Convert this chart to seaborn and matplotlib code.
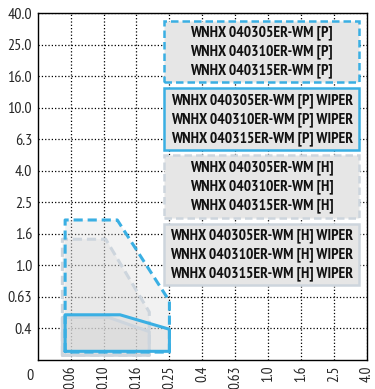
import numpy as np
import pandas as pd
import matplotlib
matplotlib.use("Agg")
import matplotlib.pyplot as plt
from matplotlib.patches import Rectangle
import seaborn as sns

# axis tick values (equally spaced on the chart)
x_ticks = [0, 0.06, 0.10, 0.16, 0.25, 0.40, 0.63, 1.0, 1.6, 2.5, 4.0]
y_ticks = [0, 0.4, 0.63, 1.0, 1.6, 2.5, 4.0, 6.3, 10.0, 16.0, 25.0, 40.0]
x_labels = ["0.06", "0.10", "0.16", "0.25", "0.4", "0.63", "1.0", "1.6", "2.5", "4.0"]
y_labels = ["0.4", "0.63", "1.0", "1.6", "2.5", "4.0", "6.3", "10.0", "16.0", "25.0", "40.0"]

# working areas: feed (x) and depth of cut (y)
p_f = [0.05, 0.05, 0.125, 0.25, 0.25]
p_ap = [0.1, 2.0, 2.0, 0.6, 0.1]
pw_f = [0.05, 0.05, 0.13, 0.25, 0.25]
pw_ap = [0.11, 0.5, 0.5, 0.39, 0.11]
h_f = [0.045, 0.045, 0.104, 0.195, 0.195]
h_ap = [0.06, 1.5, 1.5, 0.52, 0.06]
hw_f = [0.045, 0.045, 0.11, 0.195, 0.195]
hw_ap = [0.06, 0.48, 0.48, 0.36, 0.06]

grades = ["040305", "040310", "040315"]
legend_names = ["WNHX {}ER-WM [P]", "WNHX {}ER-WM [P] WIPER",
                "WNHX {}ER-WM [H]", "WNHX {}ER-WM [H] WIPER"]

BLUE = "#3aafe3"
GREY = "#cdd5dd"

sns.set_theme(style="white")
plt.rcParams["font.family"] = ["PT Sans Narrow", "Roboto Condensed", "Asap Condensed", "DejaVu Sans"]


def to_x(v):
    return np.interp(v, x_ticks, np.arange(len(x_ticks)))


def to_y(v):
    return np.interp(v, y_ticks, np.arange(len(y_ticks)))


fig, ax = plt.subplots(figsize=(3.75, 3.89), dpi=100)
fig.subplots_adjust(left=0.1005, right=0.9787, top=0.9653, bottom=0.0746)

areas = [
    (p_f, p_ap, BLUE, "--", 0.30),
    (h_f, h_ap, GREY, "--", 0.30),
    (pw_f, pw_ap, BLUE, "-", 0.35),
    (hw_f, hw_ap, GREY, "-", 0.35),
]
for f, ap, c, ls, a in areas:
    ax.fill(to_x(f), to_y(ap), color="#d6d6d6", alpha=a, lw=0, zorder=2)

for f, ap, c, ls, a in [areas[1], areas[3], areas[0], areas[2]]:
    df = pd.DataFrame({"x": to_x(f + f[:1]), "y": to_y(ap + ap[:1])})
    sns.lineplot(data=df, x="x", y="y", sort=False, estimator=None, ax=ax,
                 color=c, linewidth=2.2, zorder=3)
    if ls == "--":
        ax.lines[-1].set_dashes([3, 1.6])

ax.set_xlim(0, 10)
ax.set_ylim(0, 11)
ax.set_xticks(range(1, 11))
ax.set_xticklabels(x_labels, rotation=90, fontsize=11)
ax.set_yticks(range(1, 12))
ax.set_yticklabels(y_labels, fontsize=11.5)
ax.set_xlabel("")
ax.set_ylabel("")
ax.grid(True, linestyle=":", color="black", linewidth=0.9, zorder=1)
ax.set_axisbelow(True)
ax.tick_params(axis="x", length=2, width=0.8, color="black", pad=2)
ax.tick_params(axis="y", length=0, pad=4)
for s in ax.spines.values():
    s.set_color("black")
    s.set_linewidth(1.0)

fig.text(30 / 375, 1 - 376 / 389, "0", ha="center", va="center", fontsize=11.5)

# legend boxes (axes fraction)
boxes = [(0.803, 0.978, BLUE, "--"), (0.606, 0.784, BLUE, "-"),
         (0.409, 0.592, GREY, "--"), (0.216, 0.393, GREY, "-")]
dy = 19 / 346.5
for (y0, y1, c, ls), name in zip(boxes, legend_names):
    rect = Rectangle((0.3835, y0), 0.5925, y1 - y0, transform=ax.transAxes,
                     facecolor="#e6e6e6", edgecolor=c, linewidth=1.8,
                     linestyle=ls, zorder=5)
    if ls == "--":
        rect.set_linestyle((0, (3, 1.6)))
    ax.add_patch(rect)
    yc = (y0 + y1) / 2
    for k, g in enumerate(grades):
        ax.text(0.68, yc + (1 - k) * dy, name.format(g), transform=ax.transAxes,
                ha="center", va="center", fontsize=11.2, fontweight="bold",
                color="#111111", zorder=6)

fig.savefig("out.png", dpi=100)
